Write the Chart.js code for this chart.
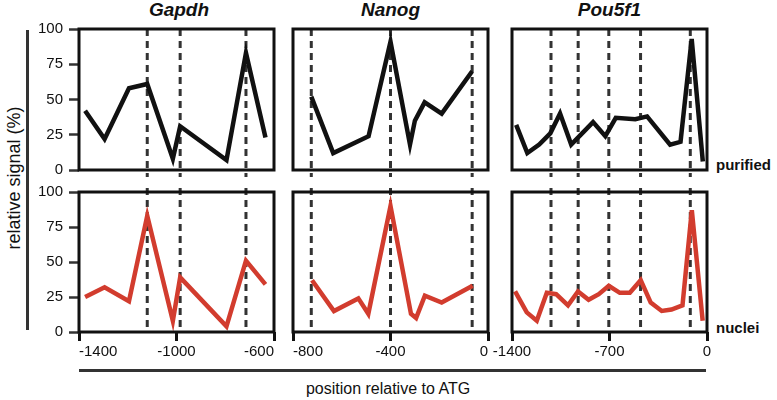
<!DOCTYPE html>
<html>
<head>
<meta charset="utf-8">
<title>relative signal</title>
<script src="https://cdn.jsdelivr.net/npm/chart.js@4.4.1/dist/chart.umd.min.js"></script>
<style>
  body { margin: 0; background: #fff; }
  #fig { position: relative; width: 777px; height: 400px; overflow: hidden;
         font-family: "Liberation Sans", Arial, sans-serif; color: #111; }
  #fig canvas { position: absolute; }
  .txt { position: absolute; white-space: nowrap; }
  .title { top: 0; font-size: 19px; line-height: 20px; font-weight: bold; font-style: italic; text-align: center; }
  .row { left: 716px; font-size: 15px; line-height: 15px; font-weight: bold; }
  .bar { position: absolute; background: #333; }
</style>
</head>
<body>
<div id="fig">
  <div class="txt title" style="left:79px;width:200px;">Gapdh</div>
  <div class="txt title" style="left:293px;width:195px;">Nanog</div>
  <div class="txt title" style="left:512px;width:195px;">Pou5f1</div>
  <div class="txt row" style="top:157px;">purified</div>
  <div class="txt row" style="top:320px;">nuclei</div>
  <div class="bar" style="left:26px;top:30px;width:3px;height:300px;"></div>
  <div class="txt" style="left:14px;top:178px;font-size:18px;line-height:18px;transform:translate(-50%,-50%) rotate(-90deg);">relative signal (%)</div>
  <div class="bar" style="left:79px;top:369px;width:627px;height:3px;"></div>
  <div class="txt" style="left:388px;top:380px;font-size:16px;line-height:18px;transform:translateX(-50%);">position relative to ATG</div>
</div>

<script>
// positions (bp relative to ATG) and signal (%)
const gapdhX = [-1375, -1295, -1195, -1120, -1015, -985, -795, -715, -635];
const gapdhPurified = [42, 22, 58, 61, 8, 31, 7, 83, 23];
const gapdhNuclei = [25, 32, 22, 83, 8, 39, 4, 51, 34];
const gapdhSites = [-1120, -985, -715];

const nanogPurifiedX = [-725, -635, -490, -400, -320, -300, -260, -190, -65];
const nanogPurified = [52, 12, 24, 91, 18, 35, 48, 40, 70];
const nanogNucleiX = [-722, -632, -532, -491, -400, -316, -295, -259, -190, -63];
const nanogNuclei = [37, 15, 24, 13, 90, 13, 10, 26, 21, 33];
const nanogSites = [-725, -400, -65];

const pouPurifiedX = [-1370, -1290, -1205, -1125, -1055, -975, -818, -730, -655, -515, -430, -265, -190, -110, -30];
const pouPurified = [32, 12, 18, 26, 40, 18, 34, 24, 37, 36, 38, 18, 20, 93, 6];
const pouNucleiX = [-1378, -1294, -1222, -1150, -1083, -998, -926, -850, -777, -705, -626, -554, -476, -404, -325, -255, -176, -109, -31];
const pouNuclei = [29, 14, 8, 28, 27, 19, 29, 23, 27, 33, 28, 28, 37, 21, 15, 16, 19, 87, 8];
const pouSites = [-1120, -925, -705, -477, -120];

const yTicks = [0, 25, 50, 75, 100];

Chart.defaults.font.family = '"Liberation Sans", Arial, sans-serif';
Chart.defaults.color = '#111';

// dashed vertical lines at the marked sites
const sitePlugin = {
  id: 'sites',
  beforeDatasetsDraw(chart, args, opts) {
    const { ctx, chartArea: a, scales: { x } } = chart;
    ctx.save();
    ctx.strokeStyle = '#333';
    ctx.lineWidth = 3;
    ctx.setLineDash([7, 5]);
    opts.values.forEach(v => {
      const px = x.getPixelForValue(v);
      ctx.beginPath();
      ctx.moveTo(px, a.top - opts.above);
      ctx.lineTo(px, a.bottom + opts.below);
      ctx.stroke();
    });
    ctx.restore();
  }
};

// black frame round each panel
const framePlugin = {
  id: 'frame',
  afterDatasetsDraw(chart) {
    const { ctx, chartArea: a } = chart;
    ctx.save();
    ctx.strokeStyle = '#111';
    ctx.lineWidth = 3;
    ctx.strokeRect(a.left, a.top, a.right - a.left, a.bottom - a.top);
    ctx.restore();
  }
};

function makePanel(p) {
  const fig = document.getElementById('fig');
  // margins kept above the 15px the y axis asks for, so the plot area lands on p.box
  const padLeft = 60, padTop = 16, padRight = 30;
  const padBottom = p.bottom ? 40 : 16;
  const canvas = document.createElement('canvas');
  canvas.width = p.box[2] - p.box[0] + padLeft + padRight;
  canvas.height = p.box[3] - p.box[1] + padTop + padBottom;
  canvas.style.left = (p.box[0] - padLeft) + 'px';
  canvas.style.top = (p.box[1] - padTop) + 'px';
  fig.appendChild(canvas);

  new Chart(canvas, {
    type: 'line',
    data: {
      datasets: [{
        data: p.x.map((x, i) => ({ x: x, y: p.y[i] })),
        borderColor: p.color,
        borderWidth: 4.5,
        borderJoinStyle: 'miter',
        pointRadius: 0,
        tension: 0
      }]
    },
    options: {
      responsive: false,
      animation: false,
      layout: { padding: { left: 0, top: padTop, right: padRight, bottom: 0 } },
      plugins: {
        legend: { display: false },
        tooltip: { enabled: false },
        sites: { values: p.sites, above: p.bottom ? 4 : 0, below: p.bottom ? 0 : 7 }
      },
      scales: {
        x: {
          type: 'linear',
          min: p.min,
          max: p.max,
          afterFit: s => { s.height = padBottom; },
          border: { display: false },
          grid: { drawOnChartArea: false, drawTicks: p.bottom, tickLength: 9, tickWidth: 3, tickColor: '#111' },
          ticks: { display: p.bottom, stepSize: p.step, align: p.align, autoSkip: false, maxRotation: 0, padding: 2,
                   font: { size: 15 }, callback: v => String(v) }
        },
        y: {
          min: 0,
          max: 100,
          afterFit: s => { s.width = padLeft; },
          afterBuildTicks: s => { s.ticks = yTicks.map(v => ({ value: v })); },
          border: { display: false },
          grid: { drawOnChartArea: false, drawTicks: p.yAxis, tickLength: 10, tickWidth: 2.5, tickColor: '#333' },
          ticks: { display: p.yAxis, padding: 6, font: { size: 15 } }
        }
      }
    },
    plugins: [sitePlugin, framePlugin]
  });
}

document.addEventListener('DOMContentLoaded', () => {
  const black = '#111';
  const red = '#d23c2e';
  const gapdhAxis = { min: -1400, max: -600, step: 400, align: 'inner', sites: gapdhSites };
  const nanogAxis = { min: -800, max: 0, step: 400, align: 'inner', sites: nanogSites };
  const pouAxis = { min: -1400, max: 0, step: 700, align: 'center', sites: pouSites };

  const panels = [
    Object.assign({ box: [79, 29, 274, 170], x: gapdhX, y: gapdhPurified, color: black, yAxis: true, bottom: false }, gapdhAxis),
    Object.assign({ box: [79, 192, 274, 332], x: gapdhX, y: gapdhNuclei, color: red, yAxis: true, bottom: true }, gapdhAxis),
    Object.assign({ box: [293, 29, 488, 170], x: nanogPurifiedX, y: nanogPurified, color: black, yAxis: false, bottom: false }, nanogAxis),
    Object.assign({ box: [293, 192, 488, 332], x: nanogNucleiX, y: nanogNuclei, color: red, yAxis: false, bottom: true }, nanogAxis),
    Object.assign({ box: [512, 29, 707, 170], x: pouPurifiedX, y: pouPurified, color: black, yAxis: false, bottom: false }, pouAxis),
    Object.assign({ box: [512, 192, 707, 332], x: pouNucleiX, y: pouNuclei, color: red, yAxis: false, bottom: true }, pouAxis)
  ];
  panels.forEach(makePanel);
});
</script>
</body>
</html>
